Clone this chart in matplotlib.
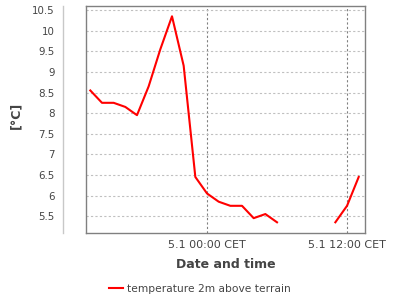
import numpy as np
import matplotlib
matplotlib.use("Agg")
import matplotlib.pyplot as plt
from matplotlib.lines import Line2D

# hours relative to 5.1 00:00 CET
hours = [-10, -9, -8, -7, -6, -5, -4, -3, -2, -1, 0, 1, 2, 3, 4, 5, 6,
         7, 8, 9, 10, 11, 12, 13]
temps = [8.55, 8.25, 8.25, 8.15, 7.95, 8.65, 9.55, 10.35, 9.15, 6.45, 6.05,
         5.85, 5.75, 5.75, 5.45, 5.55, 5.35,
         np.nan, np.nan, np.nan, np.nan, 5.35, 5.75, 6.45]
x_ticks = [0, 12]
x_tick_labels = ["5.1 00:00 CET", "5.1 12:00 CET"]
y_ticks = [5.5, 6, 6.5, 7, 7.5, 8, 8.5, 9, 9.5, 10, 10.5]
y_tick_labels = ["5.5", "6", "6.5", "7", "7.5", "8", "8.5", "9", "9.5", "10", "10.5"]
series_name = "temperature 2m above terrain"

plt.rcParams['font.family'] = ['DejaVu Sans']
fig = plt.figure(figsize=(4, 3), dpi=100)
ax = fig.add_axes([86/400, 1-233/300, (365-86)/400, (233-6)/300])

ax.plot(hours, temps, color="#ff0000", lw=1.5, label=series_name)
ax.set_xlim(-10.37, 13.54)
ax.set_ylim(5.09, 10.6)

ax.set_yticks(y_ticks)
ax.set_yticklabels(y_tick_labels)
ax.set_xticks(x_ticks)
ax.set_xticklabels(x_tick_labels)
ax.tick_params(axis='both', length=0, labelcolor="#444444")
ax.tick_params(axis='y', pad=5.8, labelsize=7.4)
ax.tick_params(axis='x', pad=5, labelsize=8)

ax.yaxis.grid(True, color="#c0c0c0", ls=(0, (2, 2)), lw=0.8)
ax.xaxis.grid(True, color="#808080", ls=(0, (2, 2)), lw=0.8)

for s in ['top', 'right', 'bottom']:
    ax.spines[s].set_color("#808080")
    ax.spines[s].set_linewidth(1.0)
ax.spines['left'].set_position(('outward', 16.6))
ax.spines['left'].set_color("#c8c8c8")
ax.spines['left'].set_linewidth(1.0)
ax.add_line(Line2D([0, 0], [0, 1], transform=ax.transAxes, color="#808080",
                   lw=1.0, clip_on=False))

ax.set_xlabel("Date and time", fontsize=9, fontweight='bold', color="#444444", labelpad=6)
ax.set_ylabel("[°C]", fontsize=9, fontweight='bold', color="#444444")
ax.yaxis.set_label_coords((22-86)/279, (233-115)/227)

fig.legend(loc='center', bbox_to_anchor=(0.5, 1-289/300), frameon=False,
           fontsize=7.7, handlelength=1.3, handletextpad=0.4,
           labelcolor="#444444")

fig.savefig("out.png", dpi=100)
